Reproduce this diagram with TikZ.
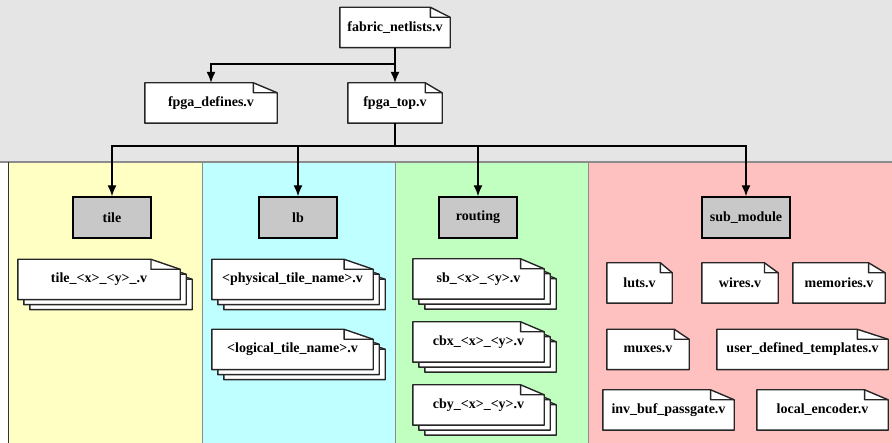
\documentclass[tikz,border=0pt]{standalone}
\usepackage{fontspec}
\setmainfont{Liberation Serif}
\usetikzlibrary{arrows.meta,calc}

\pgfdeclarelayer{bands}
\pgfdeclarelayer{sheets}
\pgfsetlayers{bands,sheets,main}

\definecolor{bandgray}{HTML}{E5E5E5}
\definecolor{tileyellow}{HTML}{FFFFC4}
\definecolor{lbcyan}{HTML}{C0FFFF}
\definecolor{routegreen}{HTML}{C0FFC0}
\definecolor{subpink}{HTML}{FFC0C0}
\definecolor{groupgray}{HTML}{C8C8C8}

% one sheet of a file node, shifted by (#2,#3)
\newcommand{\vsheet}[3]{%
  \draw[sheetline] ($(#1.south west)+(#2,#3)$) -- ($(#1.north west)+(#2,#3)$)
    -- ($(#1.north west)!0.82!(#1.north east)+(#2,#3)$)
    -- ($(#1.north east)+(#2,#3+10)$) -- ($(#1.south east)+(#2,#3)$) -- cycle;
  \draw[sheetline,fill=none] ($(#1.north west)!0.82!(#1.north east)+(#2,#3)$)
    -- ($(#1.north west)!0.82!(#1.north east)+(#2,#3+10)$)
    -- ($(#1.north east)+(#2,#3+10)$);
}
% three stacked sheets
\newcommand{\vstack}[1]{\vsheet{#1}{12}{10}\vsheet{#1}{6}{5}\vsheet{#1}{0}{0}}

\begin{document}
\begin{tikzpicture}[
  x=1pt, y=-1pt,
  every node/.style={font=\fontsize{14}{16}\selectfont\bfseries, inner sep=0pt},
  vfile/.style={minimum height=40pt},
  group/.style={draw, fill=groupgray, line width=1.4pt, minimum width=78pt, minimum height=41pt},
  sheetline/.style={draw=black!85, fill=white, line width=1.4pt, line join=round},
  link/.style={line width=1.4pt, -{Latex[length=11pt,width=9pt]}}
]
\useasboundingbox (0,0) rectangle (892,443);

% top level
\node[vfile, minimum width=110pt] (fabric) at (395,27.5) {fabric\_netlists.v};
\node[vfile, minimum width=132pt] (defines) at (211,103) {fpga\_defines.v};
\node[vfile, minimum width=94pt] (top) at (395,103) {fpga\_top.v};

% groups
\node[group] (tile) at (112,217.5) {tile};
\node[group] (lb) at (298,217.5) {lb};
\node[group] (routing) at (478,217.5) {routing};
\node[group, minimum width=88pt] (submod) at (746,217.5) {sub\_module};

% stacked files
\node[vfile, minimum width=162pt] (tilexy) at (99,279.5) {tile\_<x>\_<y>\_.v};
\node[vfile, minimum width=161pt] (phys) at (292.5,279.5) {<physical\_tile\_name>.v};
\node[vfile, minimum width=161pt] (logic) at (292.5,349.5) {<logical\_tile\_name>.v};
\node[vfile, minimum width=131pt] (sb) at (478.5,279) {sb\_<x>\_<y>.v};
\node[vfile, minimum width=131pt] (cbx) at (478.5,342) {cbx\_<x>\_<y>.v};
\node[vfile, minimum width=131pt] (cby) at (478.5,405) {cby\_<x>\_<y>.v};

% sub module files
\node[vfile, minimum width=65pt] (luts) at (639.5,283) {luts.v};
\node[vfile, minimum width=76pt] (wires) at (740,283) {wires.v};
\node[vfile, minimum width=92pt] (memories) at (839,283) {memories.v};
\node[vfile, minimum width=82pt] (muxes) at (648,349.5) {muxes.v};
\node[vfile, minimum width=171pt] (udt) at (802.5,349.5) {user\_defined\_templates.v};
\node[vfile, minimum width=131pt] (invbuf) at (668.5,410) {inv\_buf\_passgate.v};
\node[vfile, minimum width=131pt] (encoder) at (822.5,410) {local\_encoder.v};

\begin{pgfonlayer}{bands}
  \fill[bandgray] (0,0) rectangle (892,162);
  \fill[tileyellow] (8,162) rectangle (202,443);
  \fill[lbcyan] (202,162) rectangle (395,443);
  \fill[routegreen] (395,162) rectangle (588,443);
  \fill[subpink] (588,162) rectangle (892,443);
  \draw[black!45, line width=1.2pt] (0,162) -- (892,162);
  \draw[black!45, line width=0.6pt] (202,162) -- (202,443) (395,162) -- (395,443) (588,162) -- (588,443);
  \draw[black!80, line width=1pt] (8,162) -- (8,443);
\end{pgfonlayer}

\begin{pgfonlayer}{sheets}
  \foreach \f in {fabric,defines,top,luts,wires,memories,muxes,udt,invbuf,encoder}
    {\vsheet{\f}{0}{0}}
  \foreach \f in {tilexy,phys,logic,sb,cbx,cby}
    {\vstack{\f}}
\end{pgfonlayer}

% connectors
\coordinate (split) at (395,64);
\coordinate (bus) at (395,146);
\draw[link] (fabric.south) -- (top.north);
\draw[link] (split) -| (defines.north);
\draw[line width=1.4pt] (top.south) -- (bus);
\foreach \g in {tile,lb,routing,submod}
  \draw[link] (bus) -| (\g.north);
\end{tikzpicture}
\end{document}
